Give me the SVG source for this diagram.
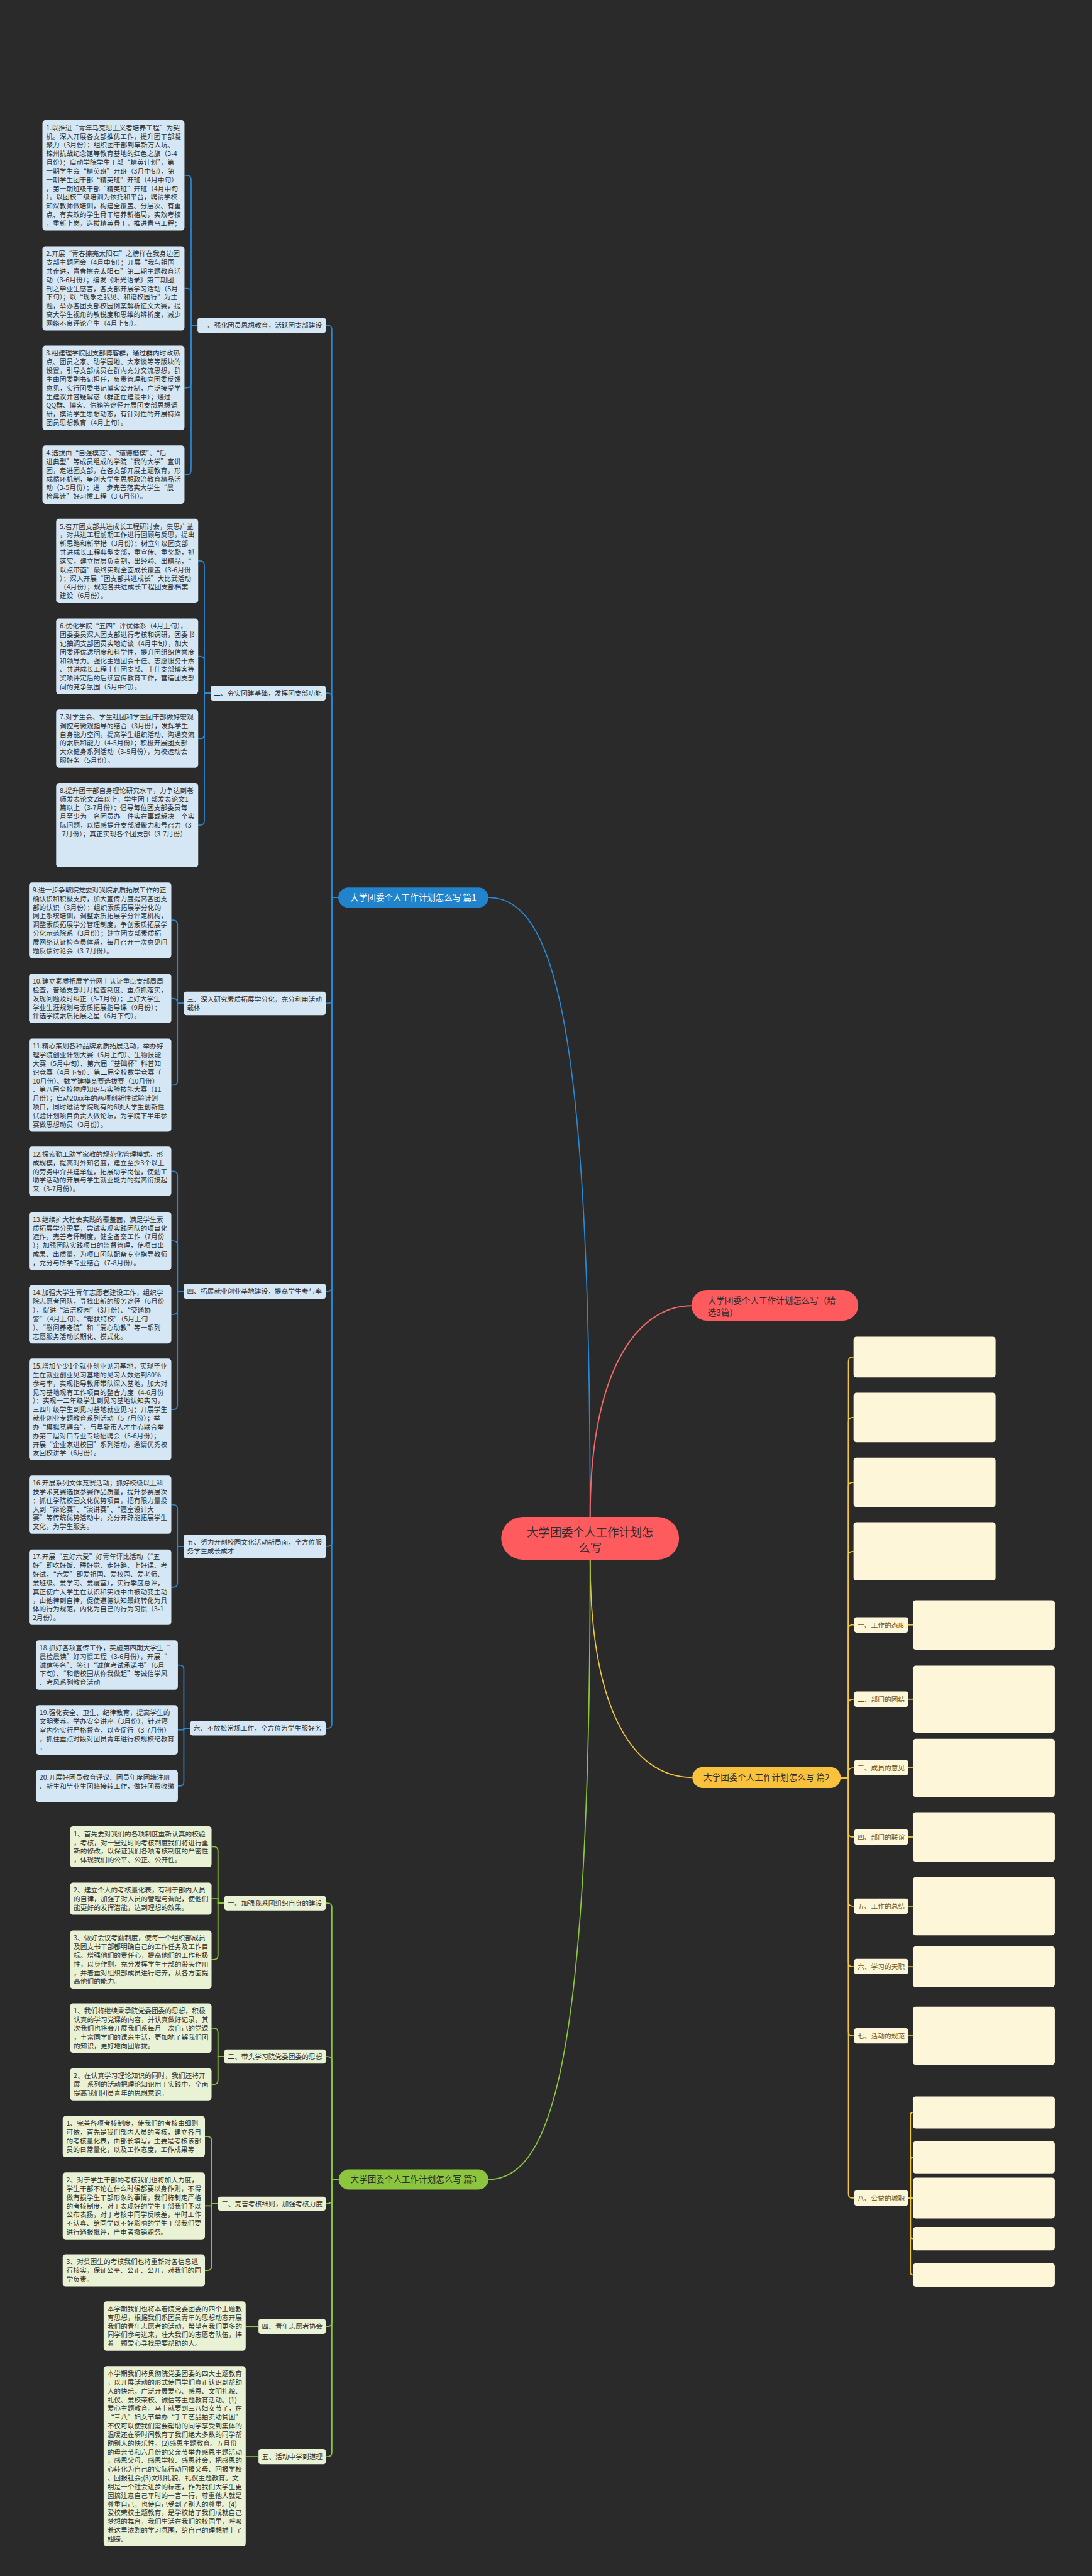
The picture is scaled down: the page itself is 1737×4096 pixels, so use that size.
<svg xmlns="http://www.w3.org/2000/svg" width="1737" height="4096" viewBox="0 0 1737 4096">
<style>
.t{font-family:"Noto Sans CJK SC","Noto Sans",sans-serif;font-size:15.8px;fill:#2e2e2e}
.ty{fill:#6a5516}
.bx{fill:#d5e7f4}
.gx{fill:#e9f2d4}
.yx{fill:#fdf6d9}
.cb{fill:none;stroke:#2b88d2;stroke-width:2.6}
.cg{fill:none;stroke:#8cc63e;stroke-width:2.6}
.cy{fill:none;stroke:#f3c73c;stroke-width:2.6}
.cr{fill:none;stroke:#f06868;stroke-width:3}
.pill{font-family:"Noto Sans CJK SC","Noto Sans",sans-serif;font-size:20px}
</style>
<rect width="1737" height="4096" fill="#2a2a2a"/>
<g transform="scale(0.6785)">
<g id="connectors">
<path class="cb" d="M1383.5,3555 C1383.5,2400 1300,2103.5 1145,2103.5"/>
<path class="cr" d="M1383.5,3555 C1383.5,3200 1500,3060 1621,3060"/>
<path class="cy" d="M1383.5,3655 C1383.5,4000 1480,4165.5 1623,4165.5"/>
<path class="cg" d="M1383.5,3655 C1383.5,4800 1300,5107.5 1145,5107.5"/>
<path class="cb" d="M793,2103.5 H778 V772.5 Q778,762.5 768,762.5 H763.5"/>
<path class="cb" d="M793,2103.5 H778 V1634.5 Q778,1624.5 768,1624.5 H763.5"/>
<path class="cb" d="M793,2103.5 H778 V2341.5 Q778,2351.5 768,2351.5 H763.5"/>
<path class="cb" d="M793,2103.5 H778 V3016 Q778,3026 768,3026 H763.5"/>
<path class="cb" d="M793,2103.5 H778 V3614 Q778,3624 768,3624 H763.5"/>
<path class="cb" d="M793,2103.5 H778 V4040 Q778,4050 768,4050 H763.5"/>
<path class="cb" d="M463,762.5 H448 V420.9 Q448,410.9 438,410.9 H432.6"/>
<path class="cb" d="M463,762.5 H448 V685.8 Q448,675.8 438,675.8 H432.6"/>
<path class="cb" d="M463,762.5 H448 V898.8 Q448,908.8 438,908.8 H432.6"/>
<path class="cb" d="M463,762.5 H448 V1102.2 Q448,1112.2 438,1112.2 H432.6"/>
<path class="cb" d="M494,1624.5 H479 V1324.5 Q479,1314.5 469,1314.5 H464.6"/>
<path class="cb" d="M494,1624.5 H479 V1548.1 Q479,1538.1 469,1538.1 H464.6"/>
<path class="cb" d="M494,1624.5 H479 V1720.9 Q479,1730.9 469,1730.9 H464.6"/>
<path class="cb" d="M494,1624.5 H479 V1923.8 Q479,1933.8 469,1933.8 H464.6"/>
<path class="cb" d="M431,2351.5 H416 V2166.6 Q416,2156.6 406,2156.6 H401.6"/>
<path class="cb" d="M431,2351.5 H416 V2350 Q416,2340 406,2340 H401.6"/>
<path class="cb" d="M431,2351.5 H416 V2533 Q416,2543 406,2543 H401.6"/>
<path class="cb" d="M431,3026 H416 V2755 Q416,2745 406,2745 H401.6"/>
<path class="cb" d="M431,3026 H416 V2918.2 Q416,2908.2 406,2908.2 H401.6"/>
<path class="cb" d="M431,3026 H416 V3070.2 Q416,3080.2 406,3080.2 H401.6"/>
<path class="cb" d="M431,3026 H416 V3293.2 Q416,3303.2 406,3303.2 H401.6"/>
<path class="cb" d="M431,3624 H416 V3536.2 Q416,3526.2 406,3526.2 H401.6"/>
<path class="cb" d="M431,3624 H416 V3709.6 Q416,3719.6 406,3719.6 H401.6"/>
<path class="cb" d="M446,4050 H431 V3912 Q431,3902 421,3902 H417"/>
<path class="cb" d="M446,4050 H431 V4054 H417"/>
<path class="cb" d="M446,4050 H431 V4175.6 Q431,4185.6 421,4185.6 H417"/>
<path class="cy" d="M1971,4165.5 H1989 V3190.3 Q1989,3180.3 1999,3180.3 H2001"/>
<path class="cy" d="M1971,4165.5 H1989 V3332 Q1989,3322 1999,3322 H2001"/>
<path class="cy" d="M1971,4165.5 H1989 V3484 Q1989,3474 1999,3474 H2001"/>
<path class="cy" d="M1971,4165.5 H1989 V3645.7 Q1989,3635.7 1999,3635.7 H2001"/>
<path class="cy" d="M1971,4165.5 H1989 V3818 Q1989,3808 1999,3808 H2002.5"/>
<path class="cy" d="M1971,4165.5 H1989 V3992 Q1989,3982 1999,3982 H2002.5"/>
<path class="cy" d="M1971,4165.5 H1989 V4153 Q1989,4143 1999,4143 H2002.5"/>
<path class="cy" d="M1971,4165.5 H1989 V4295 Q1989,4305 1999,4305 H2002.5"/>
<path class="cy" d="M1971,4165.5 H1989 V4457 Q1989,4467 1999,4467 H2002.5"/>
<path class="cy" d="M1971,4165.5 H1989 V4599 Q1989,4609 1999,4609 H2002.5"/>
<path class="cy" d="M1971,4165.5 H1989 V4761 Q1989,4771 1999,4771 H2002.5"/>
<path class="cy" d="M1971,4165.5 H1989 V5141 Q1989,5151 1999,5151 H2002.5"/>
<path class="cy" d="M2129,3808 H2140"/>
<path class="cy" d="M2129,3982 H2140"/>
<path class="cy" d="M2129,4143 H2140"/>
<path class="cy" d="M2129,4305 H2140"/>
<path class="cy" d="M2129,4467 H2140"/>
<path class="cy" d="M2129,4609 H2140"/>
<path class="cy" d="M2129,4771 H2140"/>
<path class="cy" d="M2129,5151 H2134.5 V4956.6 Q2134.5,4950.6 2140,4950.6"/>
<path class="cy" d="M2129,5151 H2134.5 V5061.8 Q2134.5,5055.8 2140,5055.8"/>
<path class="cy" d="M2129,5151 H2140"/>
<path class="cy" d="M2129,5151 H2134.5 V5240.4 Q2134.5,5246.4 2140,5246.4"/>
<path class="cy" d="M2129,5151 H2134.5 V5325.4 Q2134.5,5331.4 2140,5331.4"/>
<path class="cg" d="M794,5107.5 H778 V4470 Q778,4460 768,4460 H763.6"/>
<path class="cg" d="M794,5107.5 H778 V4829.5 Q778,4819.5 768,4819.5 H763.6"/>
<path class="cg" d="M794,5107.5 H778 V5154 Q778,5164 768,5164 H763.6"/>
<path class="cg" d="M794,5107.5 H778 V5442 Q778,5452 768,5452 H763.6"/>
<path class="cg" d="M794,5107.5 H778 V5747 Q778,5757 768,5757 H763.6"/>
<path class="cg" d="M526,4460 H511 V4337.8 Q511,4327.8 501,4327.8 H496"/>
<path class="cg" d="M526,4460 H511 V4449.6 H496"/>
<path class="cg" d="M526,4460 H511 V4582.2 Q511,4592.2 501,4592.2 H496"/>
<path class="cg" d="M526,4819.5 H511 V4763 Q511,4753 501,4753 H496"/>
<path class="cg" d="M526,4819.5 H511 V4874.6 Q511,4884.6 501,4884.6 H496"/>
<path class="cg" d="M511,5164 H496 V5016.8 Q496,5006.8 486,5006.8 H480.5"/>
<path class="cg" d="M511,5164 H496 V5169.4 H480.5"/>
<path class="cg" d="M511,5164 H496 V5310.6 Q496,5320.6 486,5320.6 H480.5"/>
<path class="cg" d="M606,5452 H576"/>
<path class="cg" d="M606,5757 H576"/>
</g>

<g id="center">
<rect x="1175" y="3555" width="417" height="100" rx="50" fill="#fd5b5e"/>
<text class="pill" x="1383.5" text-anchor="middle" style="font-size:27px;fill:#2e2e2e"><tspan x="1383.5" y="3600">大学团委个人工作计划怎</tspan><tspan x="1383.5" y="3637">么写</tspan></text>
</g>
<g id="branch-jingxuan">
<rect x="1621" y="3023" width="391" height="72" rx="36" fill="#fd5b5e"/>
<text class="pill" style="fill:#2e2e2e"><tspan x="1659" y="3055.6">大学团委个人工作计划怎么写（精</tspan><tspan x="1659" y="3082.6">选3篇）</tspan></text>
</g>
<g id="branch-p1">
<rect x="793" y="2080" width="352" height="47" rx="23.5" fill="#2183cb"/>
<text class="pill" x="969" y="2110.5" text-anchor="middle" style="fill:#fff">大学团委个人工作计划怎么写 篇1</text>
</g>
<g id="branch-p2">
<rect x="1623" y="4141" width="348" height="49" rx="24.5" fill="#f9c23c"/>
<text class="pill" x="1797" y="4172.5" text-anchor="middle" style="fill:#2e2e2e">大学团委个人工作计划怎么写 篇2</text>
</g>
<g id="branch-p3">
<rect x="794" y="5084" width="351" height="47" rx="23.5" fill="#8cc63e"/>
<text class="pill" x="969.5" y="5114.5" text-anchor="middle" style="fill:#2e2e2e">大学团委个人工作计划怎么写 篇3</text>
</g>

<g id="p1-l1"><rect class="bx" x="463" y="745" width="301" height="35" rx="6"/><text class="t" x="470.5" y="768.3">一、强化团员思想教育，活跃团支部建设</text></g>
<g id="p1-l2"><rect class="bx" x="494" y="1607" width="269.5" height="35" rx="6"/><text class="t" x="501.5" y="1630.3">二、夯实团建基础，发挥团支部功能</text></g>
<g id="p1-l3"><rect class="bx" x="431" y="2324" width="332.5" height="55" rx="6"/><text class="t"><tspan x="438.5" y="2347.3">三、深入研究素质拓展学分化，充分利用活动</tspan><tspan x="438.5" y="2367.7">载体</tspan></text></g>
<g id="p1-l4"><rect class="bx" x="431" y="3008" width="332.5" height="36" rx="6"/><text class="t" x="438.5" y="3031.8">四、拓展就业创业基地建设，提高学生参与率</text></g>
<g id="p1-l5"><rect class="bx" x="431" y="3596" width="332.5" height="56" rx="6"/><text class="t"><tspan x="438.5" y="3619.6">五、努力开创校园文化活动新局面，全方位服</tspan><tspan x="438.5" y="3640">务学生成长成才</tspan></text></g>
<g id="p1-l6"><rect class="bx" x="446" y="4033" width="317.5" height="34" rx="6"/><text class="t" x="453.5" y="4055.8">六、不放松常规工作，全方位为学生服好务</text></g>

<g id="b1"><rect class="bx" x="99.5" y="281.5" width="333" height="258.8" rx="7"/><text class="t"><tspan x="108" y="304.7">1.以推进“青年马克思主义者培养工程”为契</tspan><tspan x="108" dy="20.4">机。深入开展各支部推优工作，提升团干部凝</tspan><tspan x="108" dy="20.4">聚力（3月份）；组织团干部到阜新万人坑、</tspan><tspan x="108" dy="20.4">锦州抗战纪念馆等教育基地的红色之旅（3-4</tspan><tspan x="108" dy="20.4">月份）；启动学院学生干部“精英计划”，第</tspan><tspan x="108" dy="20.4">一期学生会“精英班”开班（3月中旬），第</tspan><tspan x="108" dy="20.4">一期学生团干部“精英班”开班（4月中旬）</tspan><tspan x="108" dy="20.4">，第一期班级干部“精英班”开班（4月中旬</tspan><tspan x="108" dy="20.4">）。以团校三级培训为依托和平台，聘请学校</tspan><tspan x="108" dy="20.4">知深教师做培训，构建全覆盖、分层次、有重</tspan><tspan x="108" dy="20.4">点、有实效的学生骨干培养新格局，实效考核</tspan><tspan x="108" dy="20.4">，重新上岗，选拔精英骨干，推进青马工程；</tspan></text></g>
<g id="b2"><rect class="bx" x="99.5" y="577" width="333" height="197.6" rx="7"/><text class="t"><tspan x="108" y="600.2">2.开展“青春擦亮太阳石”之榜样在我身边团</tspan><tspan x="108" dy="20.4">支部主题团会（4月中旬）；开展“我与祖国</tspan><tspan x="108" dy="20.4">共奋进，青春擦亮太阳石”第二期主题教育活</tspan><tspan x="108" dy="20.4">动（3-6月份）；编发《阳光语录》第三期团</tspan><tspan x="108" dy="20.4">刊之毕业生感言，各支部开展学习活动（5月</tspan><tspan x="108" dy="20.4">下旬）；以“现象之我见、和谐校园行”为主</tspan><tspan x="108" dy="20.4">题，举办各团支部校园例案解析征文大赛，提</tspan><tspan x="108" dy="20.4">高大学生视角的敏锐度和思维的辨析度，减少</tspan><tspan x="108" dy="20.4">网络不良评论产生（4月上旬）。</tspan></text></g>
<g id="b3"><rect class="bx" x="99.5" y="810" width="333" height="197.6" rx="7"/><text class="t"><tspan x="108" y="833.2">3.组建理学院团支部博客群，通过群内时政热</tspan><tspan x="108" dy="20.4">点、团员之家、助学园地、大家谈等等版块的</tspan><tspan x="108" dy="20.4">设置，引导支部成员在群内充分交流思想，群</tspan><tspan x="108" dy="20.4">主由团委副书记担任，负责管理和向团委反馈</tspan><tspan x="108" dy="20.4">意见，实行团委书记博客公开制，广泛接受学</tspan><tspan x="108" dy="20.4">生建议并答疑解惑（群正在建设中）；通过</tspan><tspan x="108" dy="20.4">QQ群、博客、信箱等途径开展团支部思想调</tspan><tspan x="108" dy="20.4">研，摸清学生思想动态，有针对性的开展特殊</tspan><tspan x="108" dy="20.4">团员思想教育（4月上旬）。</tspan></text></g>
<g id="b4"><rect class="bx" x="99.5" y="1044" width="333" height="136.4" rx="7"/><text class="t"><tspan x="108" y="1067.2">4.选拔由“自强模范”、“道德楷模”、“后</tspan><tspan x="108" dy="20.4">进典型”等成员组成的学院“我的大学”宣讲</tspan><tspan x="108" dy="20.4">团，走进团支部，在各支部开展主题教育，形</tspan><tspan x="108" dy="20.4">成循环机制，争创大学生思想政治教育精品活</tspan><tspan x="108" dy="20.4">动（3-5月份）；进一步完善落实大学生“晨</tspan><tspan x="108" dy="20.4">检晨读”好习惯工程（3-6月份）。</tspan></text></g>

<g id="b5"><rect class="bx" x="131.6" y="1215.7" width="333" height="197.6" rx="7"/><text class="t"><tspan x="140.1" y="1238.9">5.召开团支部共进成长工程研讨会，集思广益</tspan><tspan x="140.1" dy="20.4">，对共进工程前期工作进行回顾与反思，提出</tspan><tspan x="140.1" dy="20.4">新思路和新举措（3月份）；树立年级团支部</tspan><tspan x="140.1" dy="20.4">共进成长工程典型支部，重宣传、重奖励，抓</tspan><tspan x="140.1" dy="20.4">落实，建立层层负责制，出经验、出精品，“</tspan><tspan x="140.1" dy="20.4">以点带面”最终实现全面成长覆盖（3-6月份</tspan><tspan x="140.1" dy="20.4">）；深入开展“团支部共进成长”大比武活动</tspan><tspan x="140.1" dy="20.4">（4月份）；规范各共进成长工程团支部档案</tspan><tspan x="140.1" dy="20.4">建设（6月份）。</tspan></text></g>
<g id="b6"><rect class="bx" x="131.6" y="1449.5" width="333" height="177.2" rx="7"/><text class="t"><tspan x="140.1" y="1472.7">6.优化学院“五四”评优体系（4月上旬），</tspan><tspan x="140.1" dy="20.4">团委委员深入团支部进行考核和调研，团委书</tspan><tspan x="140.1" dy="20.4">记抽调支部团员实地访谈（4月中旬），加大</tspan><tspan x="140.1" dy="20.4">团委评优透明度和科学性，提升团组织信誉度</tspan><tspan x="140.1" dy="20.4">和领导力。强化主题团会十佳、志愿服务十杰</tspan><tspan x="140.1" dy="20.4">、共进成长工程十佳团支部、十佳支部博客等</tspan><tspan x="140.1" dy="20.4">奖项评定后的后续宣传教育工作，营造团支部</tspan><tspan x="140.1" dy="20.4">间的竞争氛围（5月中旬）。</tspan></text></g>
<g id="b7"><rect class="bx" x="131.6" y="1662.7" width="333" height="136.4" rx="7"/><text class="t"><tspan x="140.1" y="1685.9">7.对学生会、学生社团和学生团干部做好宏观</tspan><tspan x="140.1" dy="20.4">调控与微观指导的结合（3月份），发挥学生</tspan><tspan x="140.1" dy="20.4">自身能力空间，提高学生组织活动、沟通交流</tspan><tspan x="140.1" dy="20.4">的素质和能力（4-5月份）；积极开展团支部</tspan><tspan x="140.1" dy="20.4">大众健身系列活动（3-5月份），为校运动会</tspan><tspan x="140.1" dy="20.4">服好务（5月份）。</tspan></text></g>
<g id="b8"><rect class="bx" x="131.6" y="1835" width="333" height="197.6" rx="7"/><text class="t"><tspan x="140.1" y="1858.2">8.提升团干部自身理论研究水平，力争达到老</tspan><tspan x="140.1" dy="20.4">师发表论文2篇以上，学生团干部发表论文1</tspan><tspan x="140.1" dy="20.4">篇以上（3-7月份）；倡导每位团支部委员每</tspan><tspan x="140.1" dy="20.4">月至少为一名团员办一件实在事或解决一个实</tspan><tspan x="140.1" dy="20.4">际问题，以情感提升支部凝聚力和号召力（3</tspan><tspan x="140.1" dy="20.4">-7月份）；真正实现各个团支部（3-7月份）</tspan></text></g>

<g id="b9"><rect class="bx" x="68" y="2068" width="333.6" height="177.2" rx="7"/><text class="t"><tspan x="76.5" y="2091.2">9.进一步争取院党委对我院素质拓展工作的正</tspan><tspan x="76.5" dy="20.4">确认识和积极支持，加大宣传力度提高各团支</tspan><tspan x="76.5" dy="20.4">部的认识（3月份）；组织素质拓展学分化的</tspan><tspan x="76.5" dy="20.4">网上系统培训，调整素质拓展学分评定机构，</tspan><tspan x="76.5" dy="20.4">调整素质拓展学分管理制度，争创素质拓展学</tspan><tspan x="76.5" dy="20.4">分化示范院系（3月份）；建立团支部素质拓</tspan><tspan x="76.5" dy="20.4">展网络认证检查员体系，每月召开一次意见问</tspan><tspan x="76.5" dy="20.4">题反馈讨论会（3-7月份）。</tspan></text></g>
<g id="b10"><rect class="bx" x="68" y="2282" width="333.6" height="116" rx="7"/><text class="t"><tspan x="76.5" y="2305.2">10.建立素质拓展学分网上认证重点支部周周</tspan><tspan x="76.5" dy="20.4">检查，普通支部月月检查制度、重点抓落实，</tspan><tspan x="76.5" dy="20.4">发现问题及时纠正（3-7月份）；上好大学生</tspan><tspan x="76.5" dy="20.4">学业生涯规划与素质拓展指导课（9月份）；</tspan><tspan x="76.5" dy="20.4">评选学院素质拓展之星（6月下旬）。</tspan></text></g>
<g id="b11"><rect class="bx" x="68" y="2434" width="333.6" height="218" rx="7"/><text class="t"><tspan x="76.5" y="2457.2">11.精心策划各种品牌素质拓展活动，举办好</tspan><tspan x="76.5" dy="20.4">理学院创业计划大赛（5月上旬）、生物技能</tspan><tspan x="76.5" dy="20.4">大赛（5月中旬）、第六届“基础杯”科普知</tspan><tspan x="76.5" dy="20.4">识竞赛（4月下旬）、第二届全校数学竞赛（</tspan><tspan x="76.5" dy="20.4">10月份）、数学建模竞赛选拔赛（10月份）</tspan><tspan x="76.5" dy="20.4">、第八届全校物理知识与实验技能大赛（11</tspan><tspan x="76.5" dy="20.4">月份）；启动20xx年的两项创新性试验计划</tspan><tspan x="76.5" dy="20.4">项目，同时邀请学院现有的6项大学生创新性</tspan><tspan x="76.5" dy="20.4">试验计划项目负责人做论坛，为学院下半年参</tspan><tspan x="76.5" dy="20.4">赛做思想动员（3月份）。</tspan></text></g>
<g id="b12"><rect class="bx" x="68" y="2687" width="333.6" height="116" rx="7"/><text class="t"><tspan x="76.5" y="2710.2">12.探索勤工助学家教的规范化管理模式，形</tspan><tspan x="76.5" dy="20.4">成规模，提高对外知名度，建立至少3个以上</tspan><tspan x="76.5" dy="20.4">的劳务中介共建单位，拓展助学岗位，使勤工</tspan><tspan x="76.5" dy="20.4">助学活动的开展与学生就业能力的提高衔接起</tspan><tspan x="76.5" dy="20.4">来（3-7月份）。</tspan></text></g>
<g id="b13"><rect class="bx" x="68" y="2840" width="333.6" height="136.4" rx="7"/><text class="t"><tspan x="76.5" y="2863.2">13.继续扩大社会实践的覆盖面，满足学生素</tspan><tspan x="76.5" dy="20.4">质拓展学分需要，尝试实现实践团队的项目化</tspan><tspan x="76.5" dy="20.4">运作，完善考评制度，健全备案工作（7月份</tspan><tspan x="76.5" dy="20.4">）；加强团队实践项目的监督管理，使项目出</tspan><tspan x="76.5" dy="20.4">成果、出质量，为项目团队配备专业指导教师</tspan><tspan x="76.5" dy="20.4">，充分与所学专业结合（7-8月份）。</tspan></text></g>
<g id="b14"><rect class="bx" x="68" y="3012" width="333.6" height="136.4" rx="7"/><text class="t"><tspan x="76.5" y="3035.2">14.加强大学生青年志愿者建设工作，组织学</tspan><tspan x="76.5" dy="20.4">院志愿者团队，寻找出新的服务途径（6月份</tspan><tspan x="76.5" dy="20.4">），促进“清洁校园”（3月份）、“交通协</tspan><tspan x="76.5" dy="20.4">警”（4月上旬）、“帮扶特校”（5月上旬</tspan><tspan x="76.5" dy="20.4">）、“慰问养老院”和“爱心助教”等一系列</tspan><tspan x="76.5" dy="20.4">志愿服务活动长期化、模式化。</tspan></text></g>
<g id="b15"><rect class="bx" x="68" y="3184" width="333.6" height="238.4" rx="7"/><text class="t"><tspan x="76.5" y="3207.2">15.增加至少1个就业创业见习基地，实现毕业</tspan><tspan x="76.5" dy="20.4">生在就业创业见习基地的见习人数达到80%</tspan><tspan x="76.5" dy="20.4">参与率，实现指导教师带队深入基地，加大对</tspan><tspan x="76.5" dy="20.4">见习基地现有工作项目的整合力度（4-6月份</tspan><tspan x="76.5" dy="20.4">）；实现一二年级学生到见习基地认知实习，</tspan><tspan x="76.5" dy="20.4">三四年级学生到见习基地就业见习；开展学生</tspan><tspan x="76.5" dy="20.4">就业创业专题教育系列活动（5-7月份）；举</tspan><tspan x="76.5" dy="20.4">办“模拟竞聘会”，与阜新市人才中心联合举</tspan><tspan x="76.5" dy="20.4">办第二届对口专业专场招聘会（5-6月份）；</tspan><tspan x="76.5" dy="20.4">开展“企业家进校园”系列活动，邀请优秀校</tspan><tspan x="76.5" dy="20.4">友回校讲学（6月份）。</tspan></text></g>
<g id="b16"><rect class="bx" x="68" y="3458" width="333.6" height="136.4" rx="7"/><text class="t"><tspan x="76.5" y="3481.2">16.开展系列文体竞赛活动；抓好校级以上科</tspan><tspan x="76.5" dy="20.4">技学术竞赛选拔参赛作品质量，提升参赛层次</tspan><tspan x="76.5" dy="20.4">；抓住学院校园文化优势项目，把有限力量投</tspan><tspan x="76.5" dy="20.4">入到“辩论赛”、“演讲赛”、“寝室设计大</tspan><tspan x="76.5" dy="20.4">赛”等传统优势活动中，充分开辟能拓展学生</tspan><tspan x="76.5" dy="20.4">文化，为学生服务。</tspan></text></g>
<g id="b17"><rect class="bx" x="68" y="3631" width="333.6" height="177.2" rx="7"/><text class="t"><tspan x="76.5" y="3654.2">17.开展“五好六爱”好青年评比活动（“五</tspan><tspan x="76.5" dy="20.4">好”即吃好饭、睡好觉、走好路、上好课、考</tspan><tspan x="76.5" dy="20.4">好试，“六爱”即爱祖国、爱校园、爱老师、</tspan><tspan x="76.5" dy="20.4">爱班级、爱学习、爱寝室），实行季度总评，</tspan><tspan x="76.5" dy="20.4">真正使广大学生在认识和实践中由被动变主动</tspan><tspan x="76.5" dy="20.4">，由他律到自律，促使道德认知最终转化为具</tspan><tspan x="76.5" dy="20.4">体的行为规范，内化为自己的行为习惯（3-1</tspan><tspan x="76.5" dy="20.4">2月份）。</tspan></text></g>
<g id="b18"><rect class="bx" x="84" y="3844" width="333" height="116" rx="7"/><text class="t"><tspan x="92.5" y="3867.2">18.抓好各项宣传工作，实施第四期大学生“</tspan><tspan x="92.5" dy="20.4">晨检晨读”好习惯工程（3-6月份），开展“</tspan><tspan x="92.5" dy="20.4">诚信签名”、签订“诚信考试承诺书”（6月</tspan><tspan x="92.5" dy="20.4">下旬）、“和谐校园从你我做起”等诚信学风</tspan><tspan x="92.5" dy="20.4">、考风系列教育活动</tspan></text></g>
<g id="b19"><rect class="bx" x="84" y="3996" width="333" height="116" rx="7"/><text class="t"><tspan x="92.5" y="4019.2">19.强化安全、卫生、纪律教育，提高学生的</tspan><tspan x="92.5" dy="20.4">文明素养。举办安全讲座（3月份），针对寝</tspan><tspan x="92.5" dy="20.4">室内务实行严格督查，以查促行（3-7月份）</tspan><tspan x="92.5" dy="20.4">，抓住重点时段对团员青年进行校规校纪教育</tspan><tspan x="92.5" dy="20.4">。</tspan></text></g>
<g id="b20"><rect class="bx" x="84" y="4148" width="333" height="75.2" rx="7"/><text class="t"><tspan x="92.5" y="4171.2">20.开展好团员教育评议、团员年度团籍注册</tspan><tspan x="92.5" dy="20.4">、新生和毕业生团籍接转工作，做好团费收缴</tspan></text></g>

<g id="p3-l1"><rect class="gx" x="526" y="4443" width="237.6" height="34" rx="6"/><text class="t" x="534" y="4465.8">一、加强我系团组织自身的建设</text></g>
<g id="p3-l2"><rect class="gx" x="526" y="4803" width="237.6" height="33" rx="6"/><text class="t" x="534" y="4825.3">二、带头学习院党委团委的思想</text></g>
<g id="p3-l3"><rect class="gx" x="511" y="5147.6" width="252.6" height="33" rx="6"/><text class="t" x="519" y="5169.9">三、完善考核细则，加强考核力度</text></g>
<g id="p3-l4"><rect class="gx" x="606" y="5434.6" width="157.6" height="35" rx="6"/><text class="t" x="614" y="5457.9">四、青年志愿者协会</text></g>
<g id="p3-l5"><rect class="gx" x="606" y="5739" width="157.6" height="36" rx="6"/><text class="t" x="614" y="5762.8">五、活动中学到道理</text></g>

<g id="g1"><rect class="gx" x="164" y="4280" width="332" height="95.6" rx="7"/><text class="t"><tspan x="172.5" y="4303.2">1、首先要对我们的各项制度重新认真的校验</tspan><tspan x="172.5" dy="20.4">，考核，对一些过时的考核制度我们将进行重</tspan><tspan x="172.5" dy="20.4">新的修改，以保证我们各项考核制度的严密性</tspan><tspan x="172.5" dy="20.4">，体现我们的公平、公正、公开性。</tspan></text></g>
<g id="g2"><rect class="gx" x="164" y="4412" width="332" height="75.2" rx="7"/><text class="t"><tspan x="172.5" y="4435.2">2、建立个人的考核量化表，有利于部内人员</tspan><tspan x="172.5" dy="20.4">的自律，加强了对人员的管理与调配，使他们</tspan><tspan x="172.5" dy="20.4">能更好的发挥潜能，达到理想的效果。</tspan></text></g>
<g id="g3"><rect class="gx" x="164" y="4524" width="332" height="136.4" rx="7"/><text class="t"><tspan x="172.5" y="4547.2">3、做好会议考勤制度，使每一个组织部成员</tspan><tspan x="172.5" dy="20.4">及团支书干部都明确自己的工作任务及工作目</tspan><tspan x="172.5" dy="20.4">标。增强他们的责任心，提高他们的工作积极</tspan><tspan x="172.5" dy="20.4">性，以身作则，充分发挥学生干部的带头作用</tspan><tspan x="172.5" dy="20.4">，并着重对组织部成员进行培养，从各方面提</tspan><tspan x="172.5" dy="20.4">高他们的能力。</tspan></text></g>
<g id="g4"><rect class="gx" x="164" y="4695" width="332" height="116" rx="7"/><text class="t"><tspan x="172.5" y="4718.2">1、我们将继续秉承院党委团委的思想，积极</tspan><tspan x="172.5" dy="20.4">认真的学习党课的内容，并认真做好记录，其</tspan><tspan x="172.5" dy="20.4">次我们也将会开展我们系每月一次自己的党课</tspan><tspan x="172.5" dy="20.4">，丰富同学们的课余生活，更加地了解我们团</tspan><tspan x="172.5" dy="20.4">的知识，更好地向团靠拢。</tspan></text></g>
<g id="g5"><rect class="gx" x="164" y="4847" width="332" height="75.2" rx="7"/><text class="t"><tspan x="172.5" y="4870.2">2、在认真学习理论知识的同时，我们还将开</tspan><tspan x="172.5" dy="20.4">展一系列的活动把理论知识用于实践中，全面</tspan><tspan x="172.5" dy="20.4">提高我们团员青年的思想意识。</tspan></text></g>
<g id="g6"><rect class="gx" x="147" y="4959" width="333.5" height="95.6" rx="7"/><text class="t"><tspan x="155.5" y="4982.2">1、完善各项考核制度，使我们的考核由细则</tspan><tspan x="155.5" dy="20.4">可依，首先是我们部内人员的考核，建立各自</tspan><tspan x="155.5" dy="20.4">的考核量化表，由部长填写，主要是考核该部</tspan><tspan x="155.5" dy="20.4">员的日常量化，以及工作态度，工作成果等</tspan></text></g>
<g id="g7"><rect class="gx" x="147" y="5091" width="333.5" height="156.8" rx="7"/><text class="t"><tspan x="155.5" y="5114.2">2、对于学生干部的考核我们也将加大力度，</tspan><tspan x="155.5" dy="20.4">学生干部不论在什么时候都要以身作则，不得</tspan><tspan x="155.5" dy="20.4">做有损学生干部形象的事情，我们将制定严格</tspan><tspan x="155.5" dy="20.4">的考核制度，对于表现好的学生干部我们予以</tspan><tspan x="155.5" dy="20.4">公布表扬，对于考核中同学反映差，平时工作</tspan><tspan x="155.5" dy="20.4">不认真、给同学以不好影响的学生干部我们要</tspan><tspan x="155.5" dy="20.4">进行通报批评，严重者撤销职务。</tspan></text></g>
<g id="g8"><rect class="gx" x="147" y="5283" width="333.5" height="75.2" rx="7"/><text class="t"><tspan x="155.5" y="5306.2">3、对贫困生的考核我们也将重新对各信息进</tspan><tspan x="155.5" dy="20.4">行核实，保证公平、公正、公开，对我们的同</tspan><tspan x="155.5" dy="20.4">学负责。</tspan></text></g>
<g id="g9"><rect class="gx" x="243" y="5393" width="333" height="116" rx="7"/><text class="t"><tspan x="251.5" y="5416.2">本学期我们也将本着院党委团委的四个主题教</tspan><tspan x="251.5" dy="20.4">育思想，根据我们系团员青年的思想动态开展</tspan><tspan x="251.5" dy="20.4">我们的青年志愿者的活动，希望有我们更多的</tspan><tspan x="251.5" dy="20.4">同学们参与进来，壮大我们的志愿者队伍，捧</tspan><tspan x="251.5" dy="20.4">着一颗爱心寻找需要帮助的人。</tspan></text></g>
<g id="g10"><rect class="gx" x="243" y="5545" width="333" height="422" rx="7"/><text class="t"><tspan x="251.5" y="5568.2">本学期我们将贯彻院党委团委的四大主题教育</tspan><tspan x="251.5" dy="20.4">，以开展活动的形式使同学们真正认识到帮助</tspan><tspan x="251.5" dy="20.4">人的快乐，广泛开展爱心、感恩、文明礼貌、</tspan><tspan x="251.5" dy="20.4">礼仪、爱校荣校、诚信等主题教育活动。(1)</tspan><tspan x="251.5" dy="20.4">爱心主题教育。马上就要到三八妇女节了，在</tspan><tspan x="251.5" dy="20.4">“三八”妇女节举办“手工艺品拍卖助贫困”</tspan><tspan x="251.5" dy="20.4">不仅可以使我们需要帮助的同学享受到集体的</tspan><tspan x="251.5" dy="20.4">温暖还在瞬时间教育了我们绝大多数的同学帮</tspan><tspan x="251.5" dy="20.4">助别人的快乐性。(2)感恩主题教育。五月份</tspan><tspan x="251.5" dy="20.4">的母亲节和六月份的父亲节举办感恩主题活动</tspan><tspan x="251.5" dy="20.4">，感恩父母、感恩学校、感恩社会，把感恩的</tspan><tspan x="251.5" dy="20.4">心转化为自己的实际行动回报父母、回报学校</tspan><tspan x="251.5" dy="20.4">、回报社会;(3)文明礼貌、礼仪主题教育。文</tspan><tspan x="251.5" dy="20.4">明是一个社会进步的标志，作为我们大学生更</tspan><tspan x="251.5" dy="20.4">因搞注意自己平时的一言一行，尊重他人就是</tspan><tspan x="251.5" dy="20.4">尊重自己，也使自己受到了别人的尊重。(4)</tspan><tspan x="251.5" dy="20.4">爱校荣校主题教育，是学校给了我们成就自己</tspan><tspan x="251.5" dy="20.4">梦想的舞台，我们生活在我们的校园里，呼吸</tspan><tspan x="251.5" dy="20.4">着这里浓烈的学习氛围，给自己的理想插上了</tspan><tspan x="251.5" dy="20.4">翅膀。</tspan></text></g>

<g id="p2-i1"><rect class="yx" x="2001" y="3132.5" width="333" height="95.6" rx="7"/></g>
<g id="p2-i2"><rect class="yx" x="2001" y="3264" width="333" height="116" rx="7"/></g>
<g id="p2-i3"><rect class="yx" x="2001" y="3416" width="333" height="116" rx="7"/></g>
<g id="p2-i4"><rect class="yx" x="2001" y="3567.5" width="333" height="136.4" rx="7"/></g>

<g id="p2-l1"><rect class="yx" x="2002.5" y="3790" width="126.5" height="36" rx="6"/><text class="t ty" x="2010.5" y="3813.8">一、工作的态度</text></g>
<g id="p2-l2"><rect class="yx" x="2002.5" y="3964" width="126.5" height="36" rx="6"/><text class="t ty" x="2010.5" y="3987.8">二、部门的团结</text></g>
<g id="p2-l3"><rect class="yx" x="2002.5" y="4124.5" width="126.5" height="36" rx="6"/><text class="t ty" x="2010.5" y="4148.3">三、成员的意见</text></g>
<g id="p2-l4"><rect class="yx" x="2002.5" y="4287" width="126.5" height="36" rx="6"/><text class="t ty" x="2010.5" y="4310.8">四、部门的联谊</text></g>
<g id="p2-l5"><rect class="yx" x="2002.5" y="4449" width="126.5" height="36" rx="6"/><text class="t ty" x="2010.5" y="4472.8">五、工作的总结</text></g>
<g id="p2-l6"><rect class="yx" x="2002.5" y="4590.5" width="126.5" height="36" rx="6"/><text class="t ty" x="2010.5" y="4614.3">六、学习的天职</text></g>
<g id="p2-l7"><rect class="yx" x="2002.5" y="4753" width="126.5" height="36" rx="6"/><text class="t ty" x="2010.5" y="4776.8">七、活动的规范</text></g>
<g id="p2-l8"><rect class="yx" x="2002.5" y="5133" width="126.5" height="36" rx="6"/><text class="t ty" x="2010.5" y="5156.8">八、公益的城职</text></g>

<g id="p2-c1"><rect class="yx" x="2140" y="3750" width="333" height="116" rx="7"/></g>
<g id="p2-c2"><rect class="yx" x="2140" y="3903.6" width="333" height="156.8" rx="7"/></g>
<g id="p2-c3"><rect class="yx" x="2140" y="4074.8" width="333" height="136.4" rx="7"/></g>
<g id="p2-c4"><rect class="yx" x="2140" y="4247" width="333" height="116" rx="7"/></g>
<g id="p2-c5"><rect class="yx" x="2140" y="4398.8" width="333" height="136.4" rx="7"/></g>
<g id="p2-c6"><rect class="yx" x="2140" y="4561.2" width="333" height="95.6" rx="7"/></g>
<g id="p2-c7"><rect class="yx" x="2140" y="4702.8" width="333" height="136.4" rx="7"/></g>
<g id="p2-c8a"><rect class="yx" x="2140" y="4913" width="333" height="75.2" rx="7"/></g>
<g id="p2-c8b"><rect class="yx" x="2140" y="5018.2" width="333" height="75.2" rx="7"/></g>
<g id="p2-c8c"><rect class="yx" x="2140" y="5103.2" width="333" height="95.6" rx="7"/></g>
<g id="p2-c8d"><rect class="yx" x="2140" y="5219" width="333" height="54.8" rx="7"/></g>
<g id="p2-c8e"><rect class="yx" x="2140" y="5304" width="333" height="54.8" rx="7"/></g>
</g>
</svg>
